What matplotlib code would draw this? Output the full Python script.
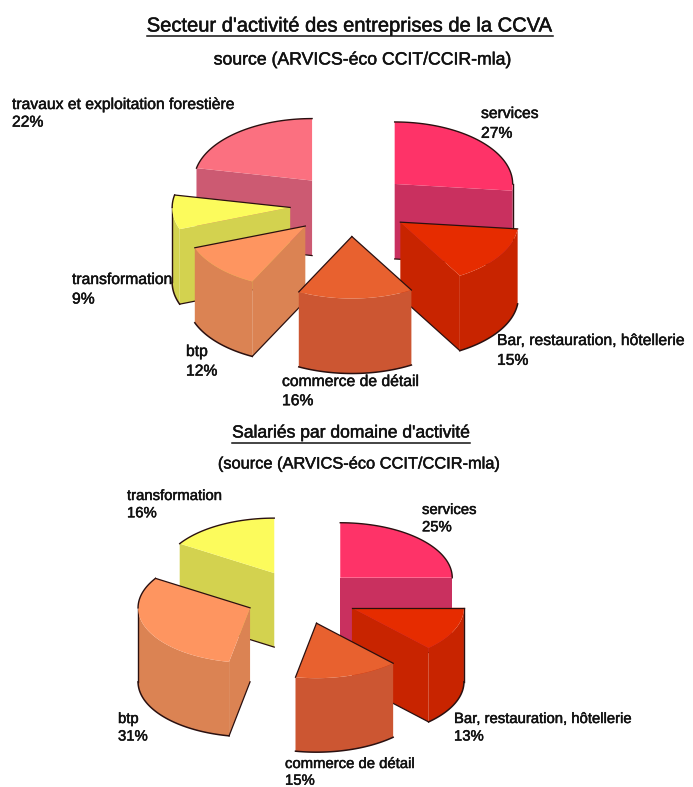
"""
two exploded 3D pie charts on activity sectors, drawn as plain polygons
"""

import numpy as np
import matplotlib
matplotlib.use("Agg")
import matplotlib.pyplot as plt
import matplotlib.patheffects as pe
from matplotlib.patches import Polygon

plt.rcParams['font.family'] = ['Liberation Sans', 'DejaVu Sans']

# first chart
SECTEUR_LABELS = ['services', 'Bar, restauration, hôtellerie', 'commerce de détail',
                  'btp', 'transformation', 'travaux et exploitation forestière']
SECTEUR_VALUES = [27, 15, 16, 12, 9, 22]

# second chart
SALARIES_LABELS = ['services', 'Bar, restauration, hôtellerie', 'commerce de détail',
                   'btp', 'transformation']
SALARIES_VALUES = [25, 13, 15, 31, 16]

# top colour and wall colour for each sector
COLORS = {
    'services': ('#FE3368', '#C9305F'),
    'Bar, restauration, hôtellerie': ('#E62C00', '#C82400'),
    'commerce de détail': ('#E8612F', '#CC5632'),
    'btp': ('#FE9560', '#DB8353'),
    'transformation': ('#FCFB5C', '#D3D24F'),
    'travaux et exploitation forestière': ('#FB7080', '#CC5A72'),
}
EDGE = '#2a1010'
INK = '#111111'
HEAVY = [pe.withStroke(linewidth=0.35, foreground=INK)]


def rim(cx, cy, rx, ry, angles):
    """points of an ellipse, angles in degrees clockwise from the top"""
    a = np.radians(angles)
    return np.column_stack([cx + rx*np.sin(a), cy - ry*np.cos(a)])


def draw_wedge(ax, z, start, end, cx, cy, rx, ry, depth, top_color, wall_color):
    """one slice: visible cut faces, outer wall, top and outline, all at zorder z"""
    apex = np.array([cx, cy])
    down = np.array([0, depth])
    arc = rim(cx, cy, rx, ry, np.linspace(start, end, 80))

    # cut faces only show when they look towards the viewer
    start_pt = arc[0]
    end_pt = arc[-1]
    show_start = np.sin(np.radians(start)) < -1e-6
    show_end = np.sin(np.radians(end)) > 1e-6
    if show_start:
        ax.add_patch(Polygon([apex, start_pt, start_pt + down, apex + down],
                             fc=wall_color, ec='none', zorder=z))
    if show_end:
        ax.add_patch(Polygon([apex, end_pt, end_pt + down, apex + down],
                             fc=wall_color, ec='none', zorder=z))

    # outer wall, front half of the ellipse
    lo, hi = max(start, 90), min(end, 270)
    if hi > lo:
        front = rim(cx, cy, rx, ry, np.linspace(lo, hi, 80))
        ax.add_patch(Polygon(np.vstack([front, (front + down)[::-1]]),
                             fc=wall_color, ec='none', zorder=z))
        ax.plot(*(front + down).T, color=EDGE, lw=1.1, zorder=z)
        if lo == 90:
            ax.plot(*np.array([front[0], front[0] + down]).T, color=EDGE, lw=1.0, zorder=z)
        if hi == 270:
            ax.plot(*np.array([front[-1], front[-1] + down]).T, color=EDGE, lw=1.0, zorder=z)

    ax.add_patch(Polygon(np.vstack([apex, arc]), fc=top_color, ec='none', zorder=z))

    # back part of the top rim
    for a, b in ((start, min(end, 90)), (max(start, 270), end)):
        if b > a:
            ax.plot(*rim(cx, cy, rx, ry, np.linspace(a, b, 60)).T, color=EDGE, lw=1.0, zorder=z)

    # edges of the top when no face hangs under them, else the bottom of the face
    for show, pt in ((show_start, start_pt), (show_end, end_pt)):
        if show:
            ax.plot(*np.array([pt + down, apex + down]).T, color=EDGE, lw=0.9, zorder=z)
        elif abs(pt[0] - cx) > 1:
            ax.plot(*np.array([apex, pt]).T, color=EDGE, lw=0.9, zorder=z)


def draw_pie(ax, labels, values, order, cx, cy, rx, ry, depth, explode):
    """exploded pie, slices start at 12 o'clock and go clockwise"""
    sweep = 360*np.array(values)/sum(values)
    edges = np.concatenate([[0], np.cumsum(sweep)])
    for z, i in enumerate(order):
        mid = np.radians((edges[i] + edges[i+1])/2)
        sx = cx + explode*np.sin(mid)
        sy = cy - explode*ry/rx*np.cos(mid)
        top, wall = COLORS[labels[i]]
        draw_wedge(ax, z + 2, edges[i], edges[i+1], sx, sy, rx, ry, depth, top, wall)


def draw_labels(ax, labels, values, spots, size, spacings):
    for label, value, (x, y), spacing in zip(labels, values, spots, spacings):
        ax.text(x, y, f"{label}\n{value}%", fontsize=size, color=INK, ha='left', va='top',
                linespacing=spacing, path_effects=HEAVY, zorder=20)


def underlined(fig, ax, x, y, text, size, gap):
    t = ax.text(x, y, text, fontsize=size, color=INK, ha='center', va='center',
                path_effects=HEAVY)
    box = t.get_window_extent(fig.canvas.get_renderer()).transformed(ax.transData.inverted())
    ax.plot([box.x0, box.x1], [y + gap, y + gap], color=INK, lw=1.1)


fig = plt.figure(figsize=(6.93, 7.87), dpi=100)
ax = fig.add_axes([0, 0, 1, 1])
ax.set_xlim(0, 693)
ax.set_ylim(787, 0)
ax.axis('off')

# back slices first so the front ones cover them
draw_pie(ax, SECTEUR_LABELS, SECTEUR_VALUES, [5, 4, 3, 0, 1, 2],
         cx=350, cy=205, rx=118, ry=62, depth=75, explode=60)
draw_pie(ax, SALARIES_LABELS, SALARIES_VALUES, [4, 3, 0, 1, 2],
         cx=301, cy=597, rx=112, ry=55, depth=74, explode=55.5)

underlined(fig, ax, 350, 26, "Secteur d'activité des entreprises de la CCVA", 14.5, 10)
ax.text(362, 60, "source (ARVICS-éco CCIT/CCIR-mla)", fontsize=12.7, color=INK,
        ha='center', va='center', path_effects=HEAVY)
underlined(fig, ax, 351, 433, "Salariés par domaine d'activité", 12.6, 10)
ax.text(359, 464, "(source (ARVICS-éco CCIT/CCIR-mla)", fontsize=11.8, color=INK,
        ha='center', va='center', path_effects=HEAVY)

draw_labels(ax, SECTEUR_LABELS, SECTEUR_VALUES,
            [(481, 106), (497, 333), (282, 374), (186, 344), (72, 272), (12, 97)], 11.3,
            [1.4, 1.4, 1.35, 1.38, 1.38, 1.22])
draw_labels(ax, SALARIES_LABELS, SALARIES_VALUES,
            [(422, 503), (454, 712), (285, 757), (118, 712), (127, 489)], 10.7,
            [1.3, 1.32, 1.25, 1.32, 1.3])

fig.savefig('out.png', dpi=100)
